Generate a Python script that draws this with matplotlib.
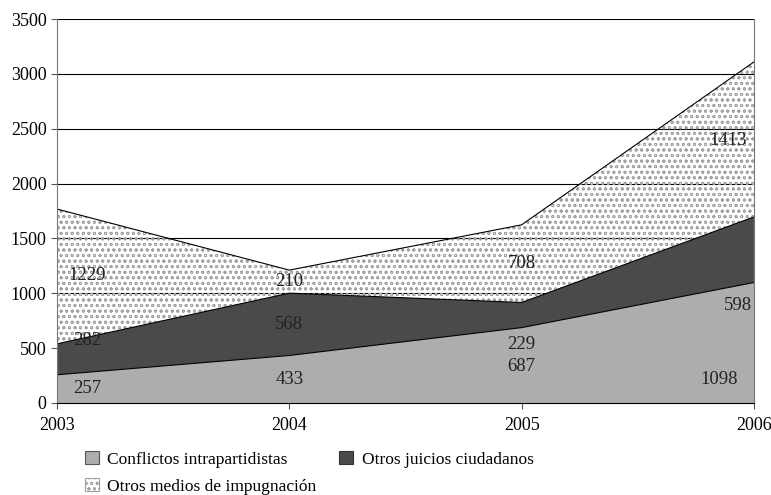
import numpy as np
import matplotlib.pyplot as plt
import matplotlib.patches as mpatches

plt.rcParams['font.family'] = ['Liberation Serif', 'DejaVu Serif']
plt.rcParams['hatch.linewidth'] = 0.6

years = [2003, 2004, 2005, 2006]
conflictos = [257, 433, 687, 1098]
juicios = [282, 568, 229, 598]
medios = [1229, 210, 708, 1413]

# where the numbers sit (x, y) for each layer
pos_conf = [(2003.13, 128), (2004.0, 210), (2005.0, 337), (2005.85, 210)]
pos_juic = [(2003.13, 565), (2004.0, 711), (2005.0, 529), (2005.93, 884)]
pos_med = [(2003.13, 1158), (2004.0, 1103), (2005.0, 1267), (2005.89, 2397)]

c1 = np.array(conflictos)
c2 = c1 + np.array(juicios)
c3 = c2 + np.array(medios)

fig = plt.figure(figsize=(7.71, 4.95), dpi=100)
ax = fig.add_axes([0.0739, 0.1859, 0.904, 0.7757])

ax.set_axisbelow(True)
ax.yaxis.grid(True, color='black', linewidth=0.8)

ax.fill_between(years, 0, c1, facecolor='#adadaf', edgecolor='none')
ax.fill_between(years, c1, c2, facecolor='#4a4a4c', edgecolor='none')
ax.fill_between(years, c2, c3, facecolor='none', edgecolor='#a0a0a0',
                hatch='ooo', linewidth=0)
ax.plot(years, c1, color='black', linewidth=0.8)
ax.plot(years, c2, color='black', linewidth=0.8)
ax.plot(years, c3, color='black', linewidth=0.8)

for vals, pos in [(conflictos, pos_conf), (juicios, pos_juic), (medios, pos_med)]:
    for v, (x, y) in zip(vals, pos):
        ax.text(x, y, str(v), ha='center', va='center', fontsize=13.5, color='#222222')

ax.set_xlim(2003, 2006)
ax.set_ylim(0, 3500)
ax.set_xticks(years)
ax.set_yticks(range(0, 3501, 500))
ax.tick_params(labelsize=13, length=4, color='#555555', colors='black')
ax.tick_params(axis='x', pad=6)
for s in ['left', 'right']:
    ax.spines[s].set_color('#777777')
ax.spines['bottom'].set_color('black')
ax.spines['top'].set_visible(False)

# legend boxes with a thin outline like the original
p1 = mpatches.Patch(facecolor='#adadaf', edgecolor='#555555', linewidth=0.8)
p2 = mpatches.Patch(facecolor='#4a4a4c', edgecolor='#333333', linewidth=0.8)
p3 = mpatches.Patch(facecolor='white', edgecolor='#a0a0a0', hatch='ooo', linewidth=0.8)
ax.legend([p1, p3, p2],
          ['Conflictos intrapartidistas', 'Otros medios de impugnación',
           'Otros juicios ciudadanos'],
          loc='upper left', bbox_to_anchor=(0.03, -0.107), ncol=2, frameon=False,
          fontsize=12.5, handlelength=0.8, handleheight=0.8, handletextpad=0.5,
          columnspacing=1.3, labelspacing=0.6, borderaxespad=0)

plt.savefig('out.png', dpi=100)
